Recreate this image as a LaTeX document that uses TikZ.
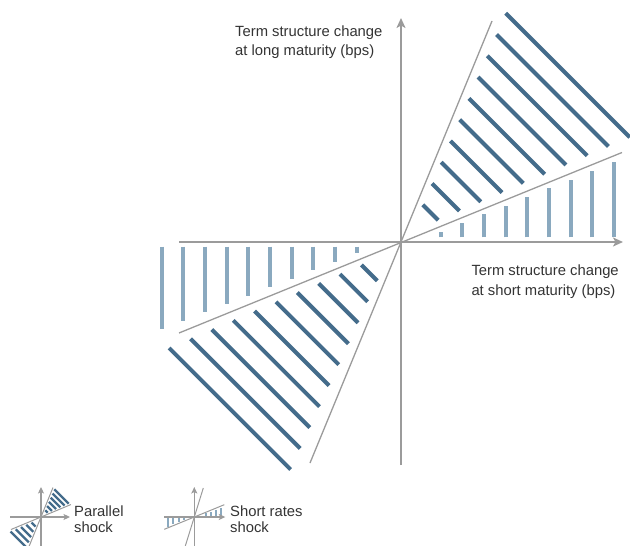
\documentclass[tikz,border=0pt]{standalone}
\usepackage{fontspec}
\setmainfont{Liberation Sans}
\usetikzlibrary{arrows.meta}
\definecolor{axisgrey}{HTML}{9B9B9B}
\definecolor{darkstripe}{HTML}{446C8B}
\definecolor{lightbar}{HTML}{8AA9BF}
\definecolor{textgrey}{HTML}{333333}
\begin{document}
\begin{tikzpicture}[x=1pt,y=-1pt,
  axis/.style={draw=axisgrey, line width=2pt, -{Stealth[length=10pt,width=9pt,inset=2.5pt]}},
  laxis/.style={draw=axisgrey, line width=1.6pt, -{Stealth[length=6.5pt,width=6pt,inset=1.5pt]}},
  bound/.style={draw=axisgrey, line width=1.3pt},
  lbound/.style={draw=axisgrey, line width=1pt},
  stripe/.style={draw=darkstripe, line width=4pt},
  lstripe/.style={draw=darkstripe, line width=2.4pt},
  bar/.style={draw=lightbar, line width=4pt},
  lbar/.style={draw=lightbar, line width=2.3pt},
  lbl/.style={inner sep=0pt, anchor=north west, align=left, text=textgrey, font=\fontsize{14.8}{19.3}\selectfont},
  lbltwo/.style={inner sep=0pt, anchor=north west, align=left, text=textgrey, font=\fontsize{14.8}{16.5}\selectfont},
]
\useasboundingbox (0,0) rectangle (630,546);

% ---------- main chart ----------
\begin{scope}[shift={(401,242)}, yscale=-1]
  \coordinate (O) at (0,0);
  \coordinate (ybot) at (0,-223);
  \coordinate (ytop) at (0,224);
  \coordinate (xleft) at (-222,0);
  \coordinate (xright) at (222,0);
  \coordinate (steepA) at (-91,-221);
  \coordinate (steepB) at (91,221);
  \coordinate (flatA) at (-222,-91);
  \coordinate (flatB) at (221,89.5);
  % light bars (short rates shock)
  \foreach \k in {0,...,8} {
    \pgfmathsetmacro\xx{39.7+21.67*\k}
    \draw[bar] (\xx,4.7) -- (\xx,{0.40*\xx-5.5});
  }
  \foreach \k in {0,...,9} {
    \pgfmathsetmacro\xx{-44.3-21.67*\k}
    \draw[bar] (\xx,-4.7) -- (\xx,{0.39*\xx+6});
  }
  % dark stripes (parallel shock)
  \foreach \k in {0,...,9} {
    \pgfmathsetmacro\dd{59+30.5*\k}
    \pgfmathsetmacro\vs{0.698*\dd-4}
    \draw[stripe] ({\dd-\vs},\vs) -- (\vs,{\dd-\vs});
  }
  \foreach \k in {0,...,9} {
    \pgfmathsetmacro\dd{62.5+30.6*\k}
    \pgfmathsetmacro\aa{0.698*\dd-4}
    \pgfmathsetmacro\bb{0.685*\dd-4}
    \draw[stripe] ({-\aa},{\aa-\dd}) -- ({\bb-\dd},{-\bb});
  }
  % boundaries
  \draw[bound] (steepA) -- (steepB);
  \draw[bound] (flatA) -- (flatB);
  % axes
  \draw[axis] (ybot) -- (ytop);
  \draw[axis] (xleft) -- (xright);
\end{scope}

\node[lbl] (ylab) at (235,25.2) {Term structure change\\at long maturity (bps)};
\node[lbl] (xlab) at (471.3,264.9) {Term structure change\\at short maturity (bps)};

% ---------- legend: parallel ----------
\begin{scope}[shift={(41,517)}, yscale=-1]
  \coordinate (pO) at (0,0);
  \coordinate (pyb) at (0,-30);
  \coordinate (pyt) at (0,30);
  \coordinate (pxl) at (-31,0);
  \coordinate (pxr) at (29,0);
  \foreach \k in {0,...,5} {
    \pgfmathsetmacro\dd{11+6*\k}
    \pgfmathsetmacro\vs{0.7*\dd-1}
    \draw[lstripe] ({\dd-\vs},\vs) -- (\vs,{\dd-\vs});
  }
  \foreach \k in {0,...,4} {
    \pgfmathsetmacro\dd{15+7.5*\k}
    \pgfmathsetmacro\vs{0.7*\dd-1}
    \draw[lstripe] ({-\vs},{\vs-\dd}) -- ({\vs-\dd},{-\vs});
  }
  \draw[lbound] (-12,-29.5) -- (12,29.5);
  \draw[lbound] (-30,-12.5) -- (30,12.5);
  \draw[laxis] (pyb) -- (pyt);
  \draw[laxis] (pxl) -- (pxr);
\end{scope}
\node[lbltwo] (legpar) at (74,505.4) {Parallel\\shock};

% ---------- legend: short rates ----------
\begin{scope}[shift={(194.3,517)}, yscale=-1]
  \coordinate (sO) at (0,0);
  \coordinate (syb) at (0,-30);
  \coordinate (syt) at (0,30);
  \coordinate (sxl) at (-30,0);
  \coordinate (sxr) at (31,0);
  \foreach \xx in {12,17,22,27} {
    \draw[lbar] (\xx,1.2) -- (\xx,{0.38*\xx-1});
  }
  \foreach \xx in {-10,-15.5,-21,-26.5} {
    \draw[lbar] (\xx,-1.2) -- (\xx,{0.38*\xx+0.5});
  }
  \draw[lbound] (-9,-29) -- (9,29);
  \draw[lbound] (-30,-12.3) -- (30,12.3);
  \draw[laxis] (syb) -- (syt);
  \draw[laxis] (sxl) -- (sxr);
\end{scope}
\node[lbltwo] (legshort) at (230,505.4) {Short rates\\shock};
\end{tikzpicture}
\end{document}
